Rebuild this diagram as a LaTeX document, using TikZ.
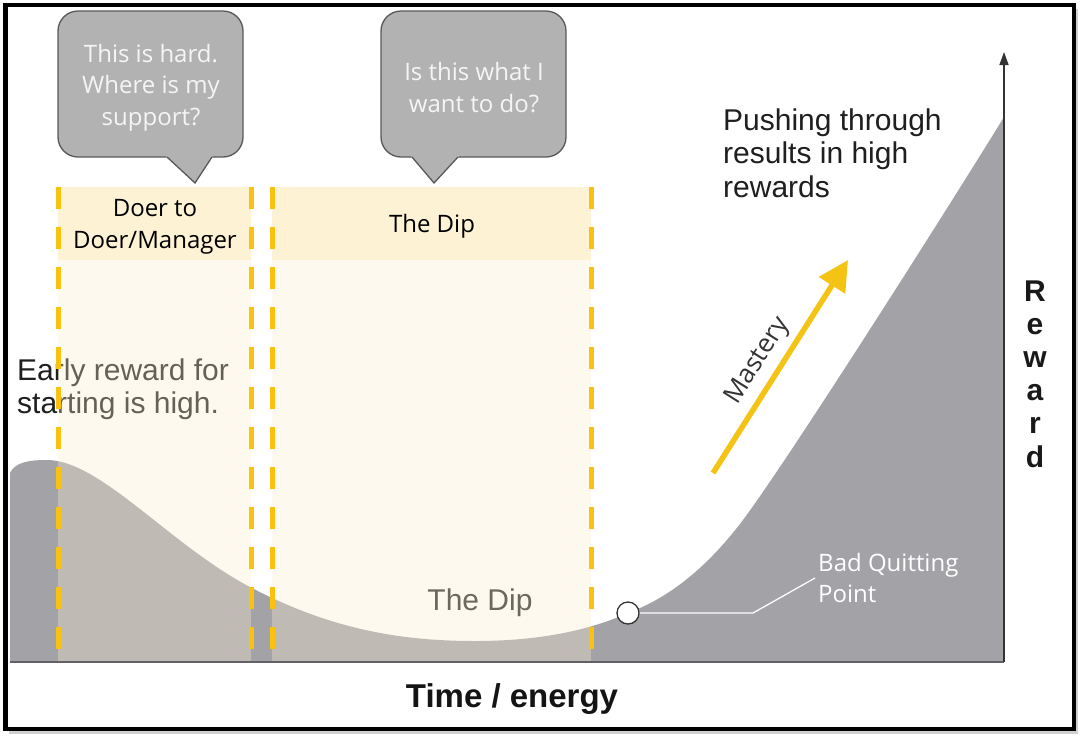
\documentclass[tikz,border=0pt]{standalone}
\usepackage{fontspec}
\setmainfont{Liberation Sans}
\newfontfamily\segfont{Open Sans}
\usetikzlibrary{arrows.meta}
\definecolor{gfill}{HTML}{A3A2A7}
\definecolor{bandc}{HTML}{FCEFD0}
\definecolor{headc}{HTML}{FDF2D3}
\definecolor{dashc}{HTML}{F9C20F}
\definecolor{callfill}{HTML}{B2B2B2}
\definecolor{calldraw}{HTML}{595959}
\definecolor{arrowc}{HTML}{F5C314}
\definecolor{axisc}{HTML}{606065}
\begin{document}
\begin{tikzpicture}[x=1pt,y=-1pt,
  callout/.style={fill=callfill, draw=calldraw, line width=1.3pt, rounded corners=20pt,
    minimum width=185pt, minimum height=146pt, inner sep=0pt},
  calltext/.style={text=white!96!black, font=\segfont\fontsize{24}{31.5}\selectfont, align=center, inner sep=0pt},
  headbox/.style={fill=headc, minimum height=73pt, inner sep=0pt},
  headtext/.style={font=\segfont\fontsize{24}{32}\selectfont, align=center, text=black, inner sep=0pt},
  arialtext/.style={font=\fontsize{30}{33.5}\selectfont, align=left, inner sep=0pt},
  bandfill/.style={fill=bandc, fill opacity=0.32},
  ydash/.style={draw=dashc, line width=5pt, dash pattern=on 22pt off 18pt},
]
\useasboundingbox (0,0) rectangle (1084,740);
% frame background and shadow
\fill[black!18] (9,9) rectangle (1078,734);
\fill[white] (5,5) rectangle (1074,729);

% reward curve
\fill[gfill] (10,662) -- (10,473)
  .. controls (15,462) and (30,460) .. (47,460)
  .. controls (100,460) and (170,545) .. (250,587)
  .. controls (330,629) and (400,641) .. (475,641)
  .. controls (540,641) and (590,630) .. (628,613)
  .. controls (660,601) and (700,577) .. (743,520)
  .. controls (790,457) and (950,205) .. (1004,117)
  -- (1004,662) -- cycle;

% texts under the bands
\node[arialtext, text=black!88, anchor=west] (early) at (17,389) {Early reward for\\starting is high.};
\node[arialtext, text=black!84] (diplow) at (480,603) {The Dip};

% bands
\fill[bandfill] (58,260) rectangle (251,662);
\fill[bandfill] (272,260) rectangle (591,662);
\node[headbox, minimum width=193pt] (h1) at (154.5,223.5) {};
\node[headtext] (h1t) at (155,227) {Doer to\\Doer/Manager};
\node[headbox, minimum width=319pt] (h2) at (431.5,223.5) {};
\node[headtext] (h2t) at (432,226.5) {The Dip};
\foreach \xx in {58,251,272,591} \draw[ydash] (\xx,187) -- (\xx,662);

% axes
\coordinate (o) at (1004,662);
\coordinate (xl) at (10,662);
\coordinate (yt) at (1004,52);
\draw[axisc, line width=2pt] (xl) -- (o);
\draw[black!80, line width=1.4pt, -{Triangle[length=13pt,width=9pt]}] (o) -- (yt);

% callouts
\node[callout] (c1) at (150.5,84) {};
\fill[callfill] (165,155) -- (167,157) -- (195,183) -- (212,157) -- (214,155) -- cycle;
\draw[calldraw, line width=1.3pt] (167,157) -- (195,183) -- (212,157);
\node[calltext] (c1t) at (151,87.5) {This is hard.\\Where is my\\support?};
\node[callout] (c2) at (473.5,84) {};
\fill[callfill] (410,155) -- (412,157) -- (434,183) -- (458,157) -- (460,155) -- cycle;
\draw[calldraw, line width=1.3pt] (412,157) -- (434,183) -- (458,157);
\node[calltext] (c2t) at (474,87.5) {Is this what I\\want to do?};

% right side texts
\node[arialtext, text=black!88, anchor=west] (push) at (723,153) {Pushing through\\results in high\\rewards};
\node[font=\bfseries\fontsize{30}{33.2}\selectfont, align=center, inner sep=0pt, text=black!90] (rw) at (1035,374) {R\\e\\w\\a\\r\\d};
\node[font=\bfseries\fontsize{33}{38}\selectfont, inner sep=0pt, text=black!92] (te) at (512,699) {Time / energy};

% mastery arrow
\coordinate (m1) at (713,473);
\coordinate (m2) at (848,260);
\draw[arrowc, line width=5.5pt, -{Triangle[length=30pt,width=30pt]}] (m1) -- (m2);
\node[rotate=57.6, font=\segfont\fontsize{26}{30}\selectfont, text=black!80, inner sep=0pt] (mt) at (758,361) {Mastery};

% bad quitting point
\node[anchor=west, font=\segfont\fontsize{24}{31}\selectfont, text=white, align=left, inner sep=3pt] (bql) at (815,578) {Bad Quitting\\Point};
\node[circle, draw=black!80, fill=white, minimum size=22pt, inner sep=0pt, line width=1.3pt] (bq) at (628,613) {};
\coordinate (bend) at (753,613);
\draw[white, line width=1.3pt] (bq) -- (bend) -- (bql.west);

% frame
\draw[black, line width=4.5pt] (5.5,5) rectangle (1074,729);
\end{tikzpicture}
\end{document}
